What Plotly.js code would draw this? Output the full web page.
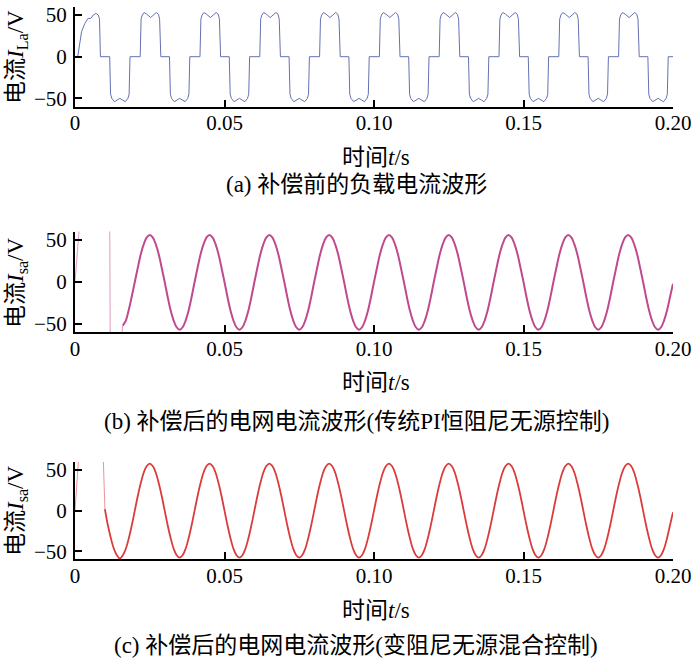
<!DOCTYPE html>
<html>
<head>
<meta charset="utf-8">
<script src="https://cdn.plot.ly/plotly-3.0.1.min.js"></script>
<style>html,body{margin:0;padding:0;background:#fff;}#chart{width:693px;height:664px;}</style>
</head>
<body>
<div id="chart"></div>
<script>
// ---------- data (times in ms, currents in A as labelled V on chart) ----------
const xTickVals = [0, 0.05, 0.10, 0.15, 0.20];
const xTickText = ['0', '0.05', '0.10', '0.15', '0.20'];
const yTickVals = [-50, 0, 50];

// (a) load current before compensation, breakpoints
const tLa_ms = [
  0,0.9,2.2,3.3,4.4,5.3,6.1,7.0,7.8,8.2,8.5,        11.6,11.9,12.3,13.2,14.1,15.0,15.9,16.8,17.7,18.1,18.4,
  21.8,22.1,22.5,23.1,24.0,25.3,26.4,27.2,27.9,28.3,28.7, 31.6,31.9,32.3,33.2,34.1,35.0,35.9,36.8,37.7,38.1,38.4,
  41.8,42.1,42.5,43.1,44.0,45.3,46.4,47.2,47.9,48.3,48.7, 51.6,51.9,52.3,53.2,54.1,55.0,55.9,56.8,57.7,58.1,58.4,
  61.8,62.1,62.5,63.1,64.0,65.3,66.4,67.2,67.9,68.3,68.7, 71.6,71.9,72.3,73.2,74.1,75.0,75.9,76.8,77.7,78.1,78.4,
  81.8,82.1,82.5,83.1,84.0,85.3,86.4,87.2,87.9,88.3,88.7, 91.6,91.9,92.3,93.2,94.1,95.0,95.9,96.8,97.7,98.1,98.4,
  101.8,102.1,102.5,103.1,104.0,105.3,106.4,107.2,107.9,108.3,108.7, 111.6,111.9,112.3,113.2,114.1,115.0,115.9,116.8,117.7,118.1,118.4,
  121.8,122.1,122.5,123.1,124.0,125.3,126.4,127.2,127.9,128.3,128.7, 131.6,131.9,132.3,133.2,134.1,135.0,135.9,136.8,137.7,138.1,138.4,
  141.8,142.1,142.5,143.1,144.0,145.3,146.4,147.2,147.9,148.3,148.7, 151.6,151.9,152.3,153.2,154.1,155.0,155.9,156.8,157.7,158.1,158.4,
  161.8,162.1,162.5,163.1,164.0,165.3,166.4,167.2,167.9,168.3,168.7, 171.6,171.9,172.3,173.2,174.1,175.0,175.9,176.8,177.7,178.1,178.4,
  181.8,182.1,182.5,183.1,184.0,185.3,186.4,187.2,187.9,188.3,188.7, 191.6,191.9,192.3,193.2,194.1,195.0,195.9,196.8,197.7,198.1,198.4,
  200
];
const iLa = [
  0,0,30,40,46,46,50,52,50,45,0,   0,-45,-50,-54,-52,-50,-52,-54,-50,-45,0,
  0,45,50,53,51,47,51,53,51,45,0,  0,-45,-50,-54,-52,-50,-52,-54,-50,-45,0,
  0,45,50,53,51,47,51,53,51,45,0,  0,-45,-50,-54,-52,-50,-52,-54,-50,-45,0,
  0,45,50,53,51,47,51,53,51,45,0,  0,-45,-50,-54,-52,-50,-52,-54,-50,-45,0,
  0,45,50,53,51,47,51,53,51,45,0,  0,-45,-50,-54,-52,-50,-52,-54,-50,-45,0,
  0,45,50,53,51,47,51,53,51,45,0,  0,-45,-50,-54,-52,-50,-52,-54,-50,-45,0,
  0,45,50,53,51,47,51,53,51,45,0,  0,-45,-50,-54,-52,-50,-52,-54,-50,-45,0,
  0,45,50,53,51,47,51,53,51,45,0,  0,-45,-50,-54,-52,-50,-52,-54,-50,-45,0,
  0,45,50,53,51,47,51,53,51,45,0,  0,-45,-50,-54,-52,-50,-52,-54,-50,-45,0,
  0,45,50,53,51,47,51,53,51,45,0,  0,-45,-50,-54,-52,-50,-52,-54,-50,-45,0,
  0
];

// (b) grid current, traditional PI constant-damping passive control
const tSb_start = 0.016, tSb_step = 0.001;   // sampling of steady part
const iSbTransT = [0, 0.0020, 0.0116, 0.0118, 0.0145, 0.0156, 0.016];
const iSbTransV = [0, 90, 90, -90, -90, -60, -52];
const iSb = [
  -52,-46,-33,-17,
  0,17,33,45,53,56,53,45,33,17,0,-18,-34,-46,-54,-57,-54,-46,-34,-18,
  0,17,33,45,53,56,53,45,33,17,0,-18,-34,-46,-54,-57,-54,-46,-34,-18,
  0,17,33,45,53,56,53,45,33,17,0,-18,-34,-46,-54,-57,-54,-46,-34,-18,
  0,17,33,45,53,56,53,45,33,17,0,-18,-34,-46,-54,-57,-54,-46,-34,-18,
  0,17,33,45,53,56,53,45,33,17,0,-18,-34,-46,-54,-57,-54,-46,-34,-18,
  0,17,33,45,53,56,53,45,33,17,0,-18,-34,-46,-54,-57,-54,-46,-34,-18,
  0,17,33,45,53,56,53,45,33,17,0,-18,-34,-46,-54,-57,-54,-46,-34,-18,
  0,17,33,45,53,56,53,45,33,17,0,-18,-34,-46,-54,-57,-54,-46,-34,-18,
  0,17,33,45,53,56,53,45,33,17,0,-18,-34,-46,-54,-57,-54,-46,-34,-18,
  -2
];

// (c) grid current, variable-damping passive hybrid control
const tSc_start = 0.010, tSc_step = 0.001;
const iScTransT = [0, 0.0015, 0.0090, 0.0100];
const iScTransV = [0, 80, 118, 2];
const iSc = [
  2,-18,-34,-47,-55,-59,-55,-47,-34,-18,
  0,18,34,47,55,58,55,47,34,18,0,-18,-34,-47,-55,-58,-55,-47,-34,-18,
  0,18,34,47,55,58,55,47,34,18,0,-18,-34,-47,-55,-58,-55,-47,-34,-18,
  0,18,34,47,55,58,55,47,34,18,0,-18,-34,-47,-55,-58,-55,-47,-34,-18,
  0,18,34,47,55,58,55,47,34,18,0,-18,-34,-47,-55,-58,-55,-47,-34,-18,
  0,18,34,47,55,58,55,47,34,18,0,-18,-34,-47,-55,-58,-55,-47,-34,-18,
  0,18,34,47,55,58,55,47,34,18,0,-18,-34,-47,-55,-58,-55,-47,-34,-18,
  0,18,34,47,55,58,55,47,34,18,0,-18,-34,-47,-55,-58,-55,-47,-34,-18,
  0,18,34,47,55,58,55,47,34,18,0,-18,-34,-47,-55,-58,-55,-47,-34,-18,
  0,18,34,47,55,58,55,47,34,18,0,-18,-34,-47,-55,-58,-55,-47,-34,-18,
  -2
];

const yTitles = ['电流<i>I</i><sub>La</sub>/V', '电流<i>I</i><sub>sa</sub>/V', '电流<i>I</i><sub>sa</sub>/V'];
const xTitle = '时间<i>t</i>/s';
const captions = ['(a) 补偿前的负载电流波形',
                  '(b) 补偿后的电网电流波形(传统PI恒阻尼无源控制)',
                  '(c) 补偿后的电网电流波形(变阻尼无源混合控制)'];

// ---------- figure ----------
const W = 693, H = 664;
const colA = '#6470b2', colB = '#c04a8c', colC = '#dc3b3b';

const traces = [
  {x: tLa_ms.map(v => v / 1000), y: iLa, xaxis: 'x', yaxis: 'y', mode: 'lines',
   line: {color: colA, width: 1}, hoverinfo: 'skip'},
  {x: iSbTransT, y: iSbTransV, xaxis: 'x2', yaxis: 'y2', mode: 'lines',
   line: {color: colB, width: 1}, opacity: 0.55, hoverinfo: 'skip'},
  {x0: tSb_start, dx: tSb_step, y: iSb, xaxis: 'x2', yaxis: 'y2', mode: 'lines',
   line: {color: colB, width: 2, shape: 'spline', smoothing: 1}, hoverinfo: 'skip'},
  {x: iScTransT, y: iScTransV, xaxis: 'x3', yaxis: 'y3', mode: 'lines',
   line: {color: colC, width: 1}, opacity: 0.55, hoverinfo: 'skip'},
  {x0: tSc_start, dx: tSc_step, y: iSc, xaxis: 'x3', yaxis: 'y3', mode: 'lines',
   line: {color: colC, width: 1.8, shape: 'spline', smoothing: 1}, hoverinfo: 'skip'}
];

const tickFont = {family: 'Liberation Serif, Times New Roman, serif', size: 21, color: '#000'};
const txtFont = {family: 'Liberation Serif, Noto Sans CJK SC, serif', size: 23, color: '#000'};

function xAx(anchor) {
  return {domain: [75 / W, 673 / W], range: [0, 0.2], anchor: anchor,
    showline: true, linecolor: '#000', linewidth: 2, mirror: false,
    ticks: 'inside', ticklen: 7, tickwidth: 2, tickcolor: '#000',
    tickvals: xTickVals, ticktext: xTickText, tickfont: tickFont, ticklabelstandoff: -4,
    showgrid: false, zeroline: false, fixedrange: true};
}
function yAx(anchor, top, bot) {
  return {domain: [1 - bot / H, 1 - top / H], range: [-60, 60], anchor: anchor,
    showline: true, linecolor: '#000', linewidth: 2, mirror: false,
    ticks: 'inside', ticklen: 7, tickwidth: 2, tickcolor: '#000',
    tickvals: yTickVals, tickfont: tickFont, ticklabelstandoff: 2,
    showgrid: false, zeroline: false, fixedrange: true};
}

const ann = [];
const yTitleY = [57, 283, 511];
const xTitleY = [157, 383, 610];
const capY = [184, 421, 645];
for (let k = 0; k < 3; k++) {
  ann.push({text: yTitles[k], xref: 'paper', yref: 'paper', x: 17 / W, y: 1 - yTitleY[k] / H,
    xanchor: 'center', yanchor: 'middle', textangle: -90, showarrow: false, font: txtFont});
  ann.push({text: xTitle, xref: 'paper', yref: 'paper', x: 376 / W, y: 1 - xTitleY[k] / H,
    xanchor: 'center', yanchor: 'middle', showarrow: false, font: txtFont});
  ann.push({text: captions[k], xref: 'paper', yref: 'paper', x: 356 / W, y: 1 - capY[k] / H,
    xanchor: 'center', yanchor: 'middle', showarrow: false, font: txtFont});
}

const layout = {
  width: W, height: H, margin: {l: 0, r: 0, t: 0, b: 0},
  paper_bgcolor: '#fff', plot_bgcolor: '#fff', showlegend: false,
  xaxis: xAx('y'), xaxis2: xAx('y2'), xaxis3: xAx('y3'),
  yaxis: yAx('x', 6.7, 106.7), yaxis2: yAx('x2', 231.6, 332.3), yaxis3: yAx('x3', 462, 559.3),
  annotations: ann
};

Plotly.newPlot('chart', traces, layout, {staticPlot: true, displayModeBar: false});
</script>
</body>
</html>
